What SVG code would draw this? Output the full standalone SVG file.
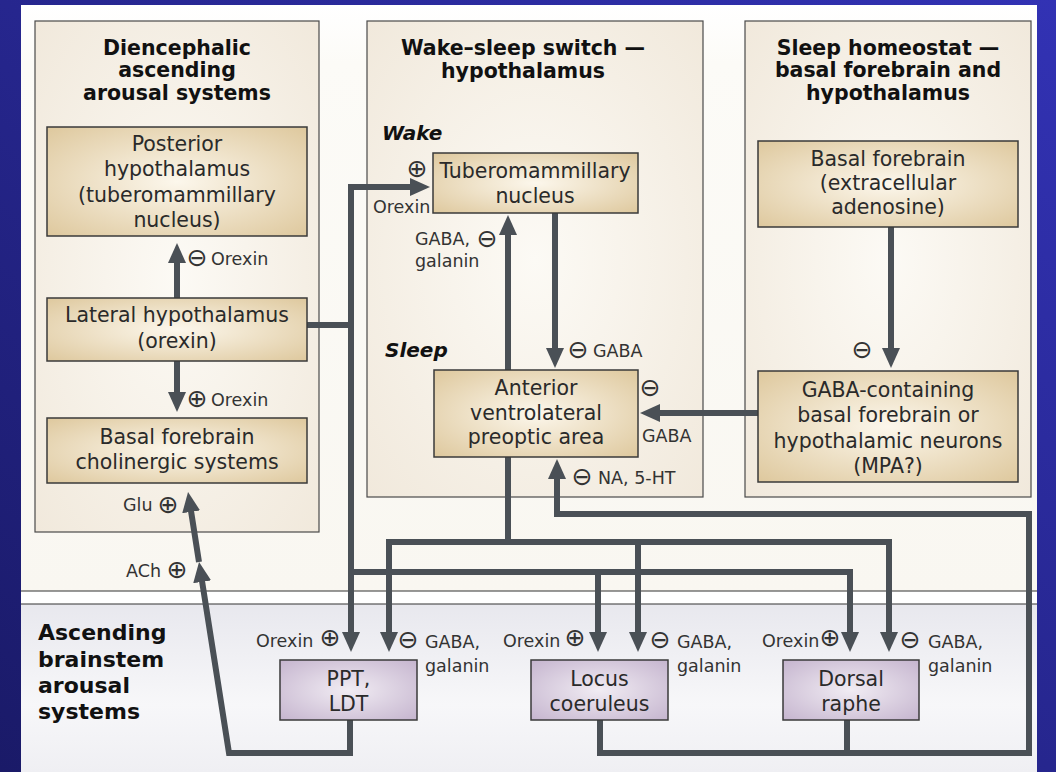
<svg xmlns="http://www.w3.org/2000/svg" width="1056" height="772" viewBox="0 0 1056 772">
<defs>
<linearGradient id="bg" x1="1" y1="0" x2="0" y2="1">
<stop offset="0" stop-color="#3232b4"/><stop offset="1" stop-color="#1a1a68"/>
</linearGradient>
<linearGradient id="upper" x1="0" y1="0" x2="0" y2="1">
<stop offset="0" stop-color="#ffffff"/><stop offset="0.1" stop-color="#fcfbf7"/><stop offset="1" stop-color="#f9f7f1"/>
</linearGradient>
<linearGradient id="lower" x1="0" y1="0" x2="0" y2="1">
<stop offset="0" stop-color="#e8e8ee"/><stop offset="0.6" stop-color="#f7f7f9"/><stop offset="1" stop-color="#efeff3"/>
</linearGradient>
<radialGradient id="panelg" cx="0.5" cy="0.5" r="0.7">
<stop offset="0" stop-color="#fcfaf5"/><stop offset="1" stop-color="#f1e9dc"/>
</radialGradient>
<radialGradient id="tan" cx="0.5" cy="0.5" r="0.75">
<stop offset="0" stop-color="#fcf7ec"/><stop offset="1" stop-color="#dcc598"/>
</radialGradient>
<radialGradient id="lav" cx="0.5" cy="0.5" r="0.75">
<stop offset="0" stop-color="#f1ecf3"/><stop offset="1" stop-color="#c2b1cc"/>
</radialGradient>
<marker id="ah" viewBox="0 0 20 18" refX="8" refY="9" markerWidth="20" markerHeight="18" markerUnits="userSpaceOnUse" orient="auto">
<path d="M0,0 L20,9 L0,18 z" fill="#4a5056"/>
</marker>
</defs>
<style>
.panel{fill:url(#panelg);stroke:#4a4a4a;stroke-width:1.2}
.node{fill:url(#tan);stroke:#3a3a3a;stroke-width:1.5}
.bnode{fill:url(#lav);stroke:#3a3a3a;stroke-width:1.5}
.title{font-family:"DejaVu Sans",sans-serif;font-weight:bold;font-size:20.5px;fill:#111;text-anchor:middle}
.ntext{font-family:"DejaVu Sans",sans-serif;font-size:20.5px;fill:#2a2a2a;text-anchor:middle}
.lbl{font-family:"DejaVu Sans",sans-serif;font-size:17.5px;fill:#333}
.sym{font-family:"DejaVu Sans",sans-serif;font-size:25px;fill:#333;text-anchor:middle}
.bi{font-family:"DejaVu Sans",sans-serif;font-weight:bold;font-style:italic;font-size:20px;fill:#111}
.bs{font-family:"DejaVu Sans",sans-serif;font-weight:bold;font-size:22px;fill:#111}
.conn path{fill:none;stroke:#4a5056;stroke-width:6;stroke-linejoin:miter}
.sep{stroke:#333;stroke-width:1.2}
</style>
<rect x="0" y="0" width="1056" height="772" fill="url(#bg)"/>
<rect x="21" y="5" width="1016" height="586" fill="url(#upper)"/>
<rect x="21" y="591" width="1016" height="13" fill="#ffffff"/>
<rect x="21" y="604" width="1016" height="168" fill="url(#lower)"/>
<line class="sep" x1="21" y1="591" x2="1037" y2="591"/>
<line class="sep" x1="21" y1="604" x2="1037" y2="604"/>

<g id="panel-diencephalic">
<rect class="panel" x="35" y="21" width="284" height="511"/>
<text class="title" x="177" y="55">Diencephalic</text>
<text class="title" x="177" y="77">ascending</text>
<text class="title" x="177" y="100">arousal systems</text>
</g>
<g id="panel-switch">
<rect class="panel" x="367" y="21" width="336" height="476"/>
<text class="title" x="523" y="55">Wake–sleep switch —</text>
<text class="title" x="523" y="78">hypothalamus</text>
<text class="bi" x="382" y="140">Wake</text>
<text class="bi" x="385" y="357">Sleep</text>
</g>
<g id="panel-homeostat">
<rect class="panel" x="745" y="21" width="286" height="476"/>
<text class="title" x="888" y="55">Sleep homeostat —</text>
<text class="title" x="888" y="77">basal forebrain and</text>
<text class="title" x="888" y="100">hypothalamus</text>
</g>
<g id="region-brainstem">
<text class="bs" x="38" y="640">Ascending</text>
<text class="bs" x="38" y="667">brainstem</text>
<text class="bs" x="38" y="693">arousal</text>
<text class="bs" x="38" y="719">systems</text>
</g>

<g class="conn" id="connectors">
<path d="M177,298 V255" marker-end="url(#ah)"/>
<path d="M177,361 V400" marker-end="url(#ah)"/>
<path d="M307,325 H351"/>
<path d="M351,330 V187 H418" marker-end="url(#ah)"/>
<path d="M351,320 V640" marker-end="url(#ah)"/>
<path d="M351,572 H850 V640" marker-end="url(#ah)"/>
<path d="M598,572 V640" marker-end="url(#ah)"/>
<path d="M508,457 V542 H389 V640" marker-end="url(#ah)"/>
<path d="M508,542 H889 V640" marker-end="url(#ah)"/>
<path d="M638,542 V640" marker-end="url(#ah)"/>
<path d="M508,460 V227" marker-end="url(#ah)"/>
<path d="M555,213 V356" marker-end="url(#ah)"/>
<path d="M758,413 H652" marker-end="url(#ah)"/>
<path d="M891,227 V356" marker-end="url(#ah)"/>
<path d="M600,720 V753 H1029 V514 H557 V471" marker-end="url(#ah)"/>
<path d="M847,720 V753"/>
<path d="M350,720 V753 H229 L200.9,573.9" marker-end="url(#ah)"/>
<path d="M199,562 L189.9,503.9" marker-end="url(#ah)"/>
</g>

<g id="node-posterior-hypothalamus">
<rect class="node" x="47" y="127" width="260" height="109"/>
<text class="ntext" x="177" y="151">Posterior</text>
<text class="ntext" x="177" y="176">hypothalamus</text>
<text class="ntext" x="177" y="202">(tuberomammillary</text>
<text class="ntext" x="177" y="227">nucleus)</text>
</g>
<g id="node-lateral-hypothalamus">
<rect class="node" x="47" y="298" width="260" height="63"/>
<text class="ntext" x="177" y="322">Lateral hypothalamus</text>
<text class="ntext" x="177" y="348">(orexin)</text>
</g>
<g id="node-bf-cholinergic">
<rect class="node" x="47" y="418" width="260" height="65"/>
<text class="ntext" x="177" y="444">Basal forebrain</text>
<text class="ntext" x="177" y="469">cholinergic systems</text>
</g>
<g id="node-tmn">
<rect class="node" x="433" y="153" width="205" height="60"/>
<text class="ntext" x="535" y="178">Tuberomammillary</text>
<text class="ntext" x="535" y="203">nucleus</text>
</g>
<g id="node-vlpo">
<rect class="node" x="434" y="370" width="204" height="87"/>
<text class="ntext" x="536" y="395">Anterior</text>
<text class="ntext" x="536" y="420">ventrolateral</text>
<text class="ntext" x="536" y="444">preoptic area</text>
</g>
<g id="node-bf-adenosine">
<rect class="node" x="758" y="141" width="260" height="86"/>
<text class="ntext" x="888" y="166">Basal forebrain</text>
<text class="ntext" x="888" y="190">(extracellular</text>
<text class="ntext" x="888" y="214">adenosine)</text>
</g>
<g id="node-gaba-neurons">
<rect class="node" x="758" y="371" width="260" height="111"/>
<text class="ntext" x="888" y="397">GABA-containing</text>
<text class="ntext" x="888" y="422">basal forebrain or</text>
<text class="ntext" x="888" y="448">hypothalamic neurons</text>
<text class="ntext" x="888" y="473">(MPA?)</text>
</g>
<g id="node-ppt-ldt">
<rect class="bnode" x="280" y="660" width="137" height="60"/>
<text class="ntext" x="348.5" y="686">PPT,</text>
<text class="ntext" x="348.5" y="711">LDT</text>
</g>
<g id="node-locus-coeruleus">
<rect class="bnode" x="531" y="660" width="137" height="60"/>
<text class="ntext" x="599.5" y="686">Locus</text>
<text class="ntext" x="599.5" y="711">coeruleus</text>
</g>
<g id="node-dorsal-raphe">
<rect class="bnode" x="783" y="660" width="136" height="60"/>
<text class="ntext" x="851" y="686">Dorsal</text>
<text class="ntext" x="851" y="711">raphe</text>
</g>

<g id="labels">
<text class="sym" x="197" y="266">⊖</text><text class="lbl" x="211" y="265">Orexin</text>
<text class="sym" x="197" y="407">⊕</text><text class="lbl" x="211" y="406">Orexin</text>
<text class="lbl" x="123" y="511">Glu</text><text class="sym" x="168" y="513">⊕</text>
<text class="lbl" x="126" y="577">ACh</text><text class="sym" x="177" y="578">⊕</text>
<text class="sym" x="417" y="177">⊕</text><text class="lbl" x="373" y="213">Orexin</text>
<text class="lbl" x="415" y="245">GABA,</text><text class="sym" x="487" y="247">⊖</text>
<text class="lbl" x="415" y="267">galanin</text>
<text class="sym" x="578" y="358">⊖</text><text class="lbl" x="593" y="357">GABA</text>
<text class="sym" x="650" y="396">⊖</text><text class="lbl" x="642" y="442">GABA</text>
<text class="sym" x="582" y="485">⊖</text><text class="lbl" x="598" y="484">NA, 5-HT</text>
<text class="sym" x="862" y="358">⊖</text>
<text class="lbl" x="256" y="647">Orexin</text><text class="sym" x="330" y="646">⊕</text>
<text class="sym" x="408" y="648">⊖</text><text class="lbl" x="425" y="648">GABA,</text>
<text class="lbl" x="425" y="672">galanin</text>
<text class="lbl" x="503" y="647">Orexin</text><text class="sym" x="575" y="646">⊕</text>
<text class="sym" x="660" y="648">⊖</text><text class="lbl" x="677" y="648">GABA,</text>
<text class="lbl" x="677" y="672">galanin</text>
<text class="lbl" x="762" y="647">Orexin</text><text class="sym" x="830" y="646">⊕</text>
<text class="sym" x="910" y="648">⊖</text><text class="lbl" x="928" y="648">GABA,</text>
<text class="lbl" x="928" y="672">galanin</text>
</g>
</svg>
